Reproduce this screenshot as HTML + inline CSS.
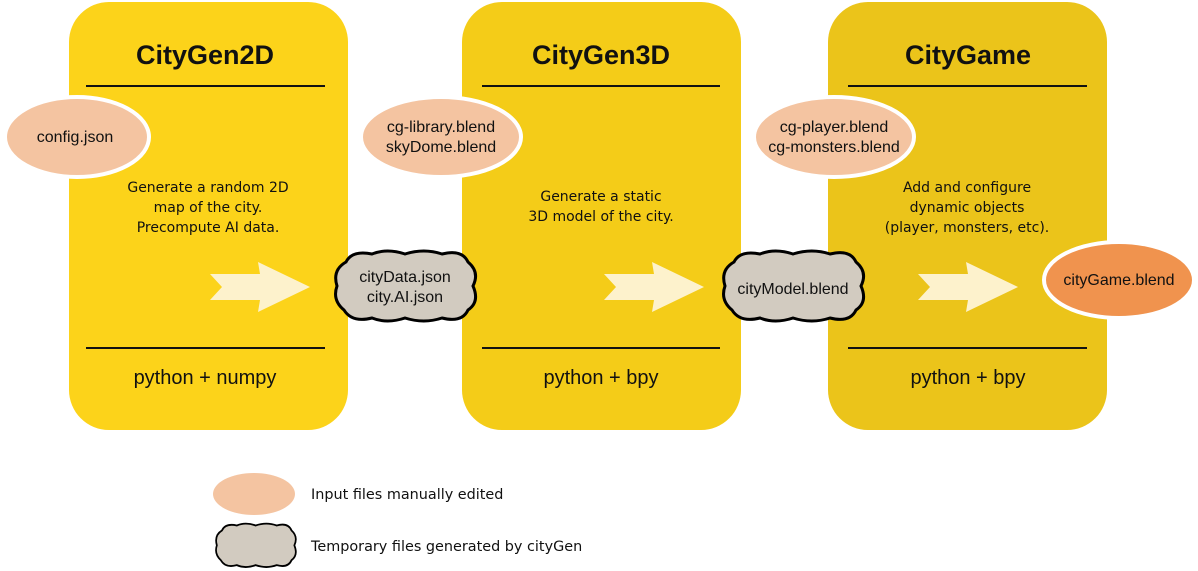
<!DOCTYPE html>
<html><head><meta charset="utf-8"><style>
body{margin:0;background:#fff;}
svg{display:block;}
text{font-family:"Liberation Sans",sans-serif;fill:#111;}
.sm{font-family:"DejaVu Sans",sans-serif;font-size:14px;}
</style></head><body>
<svg width="1198" height="571" viewBox="0 0 1198 571" xmlns="http://www.w3.org/2000/svg">
<defs>
<path id="arrow" d="M0,12 L50,12 L48,0 L100,25 L48,50 L50,38 L0,38 L12,25 Z" fill="#fdf2cc"/>
<path id="cloud" d="M14,12 Q20,0 40,4 Q55,-2 73,4 Q92,-2 110,4 Q130,-1 136,12 Q148,22 141,36 Q148,52 136,60 Q130,73 110,68 Q92,74 73,68 Q55,74 40,68 Q20,73 12,60 Q0,50 5,36 Q0,20 14,12 Z" fill="#d2cbc0" stroke="#000" stroke-width="3"/>
</defs>
<rect x="69" y="2" width="279" height="428" rx="40" fill="#fcd31a"/>
<rect x="462" y="2" width="279" height="428" rx="40" fill="#f4cc18"/>
<rect x="828" y="2" width="279" height="428" rx="40" fill="#ebc41a"/>
<g font-weight="bold" font-size="27" text-anchor="middle">
<text x="205" y="64">CityGen2D</text>
<text x="601" y="64">CityGen3D</text>
<text x="968" y="64">CityGame</text>
</g>
<g stroke="#111" stroke-width="2">
<line x1="86" y1="86" x2="325" y2="86"/><line x1="86" y1="348" x2="325" y2="348"/>
<line x1="482" y1="86" x2="720" y2="86"/><line x1="482" y1="348" x2="720" y2="348"/>
<line x1="848" y1="86" x2="1087" y2="86"/><line x1="848" y1="348" x2="1087" y2="348"/>
</g>
<g font-size="20" text-anchor="middle">
<text x="205" y="384">python + numpy</text>
<text x="601" y="384">python + bpy</text>
<text x="968" y="384">python + bpy</text>
</g>
<g text-anchor="middle">
<text class="sm" x="208" y="192">Generate a random 2D</text>
<text class="sm" x="208" y="212">map of the city.</text>
<text class="sm" x="208" y="232">Precompute AI data.</text>
<text class="sm" x="601" y="201">Generate a static</text>
<text class="sm" x="601" y="221">3D model of the city.</text>
<text class="sm" x="967" y="192">Add and configure</text>
<text class="sm" x="967" y="212">dynamic objects</text>
<text class="sm" x="967" y="232">(player, monsters, etc).</text>
</g>
<use href="#arrow" x="210" y="262"/>
<use href="#arrow" x="604" y="262"/>
<use href="#arrow" x="918" y="262"/>
<g stroke="#fff" stroke-width="4">
<ellipse cx="77" cy="137" rx="72" ry="40" fill="#f4c4a1"/>
<ellipse cx="441" cy="137" rx="80" ry="40" fill="#f4c4a1"/>
<ellipse cx="834" cy="137" rx="80" ry="40" fill="#f4c4a1"/>
<ellipse cx="1119" cy="280" rx="75" ry="38" fill="#f0934e"/>
</g>
<use href="#cloud" x="332" y="250"/>
<use href="#cloud" x="720" y="250"/>
<g font-size="16" text-anchor="middle">
<text x="75" y="142">config.json</text>
<text x="441" y="132">cg-library.blend</text>
<text x="441" y="152">skyDome.blend</text>
<text x="834" y="132">cg-player.blend</text>
<text x="834" y="152">cg-monsters.blend</text>
<text x="1119" y="285">cityGame.blend</text>
<text x="405" y="282">cityData.json</text>
<text x="405" y="302">city.AI.json</text>
<text x="793" y="294">cityModel.blend</text>
</g>
<ellipse cx="254" cy="494" rx="41" ry="21" fill="#f4c4a1"/>
<g transform="translate(214,523) scale(0.57,0.62)"><use href="#cloud"/></g>
<text x="311" y="499" font-size="14.4" style="font-family:'DejaVu Sans',sans-serif">Input files manually edited</text>
<text x="311" y="551" font-size="14.4" style="font-family:'DejaVu Sans',sans-serif">Temporary files generated by cityGen</text>
</svg>
</body></html>
